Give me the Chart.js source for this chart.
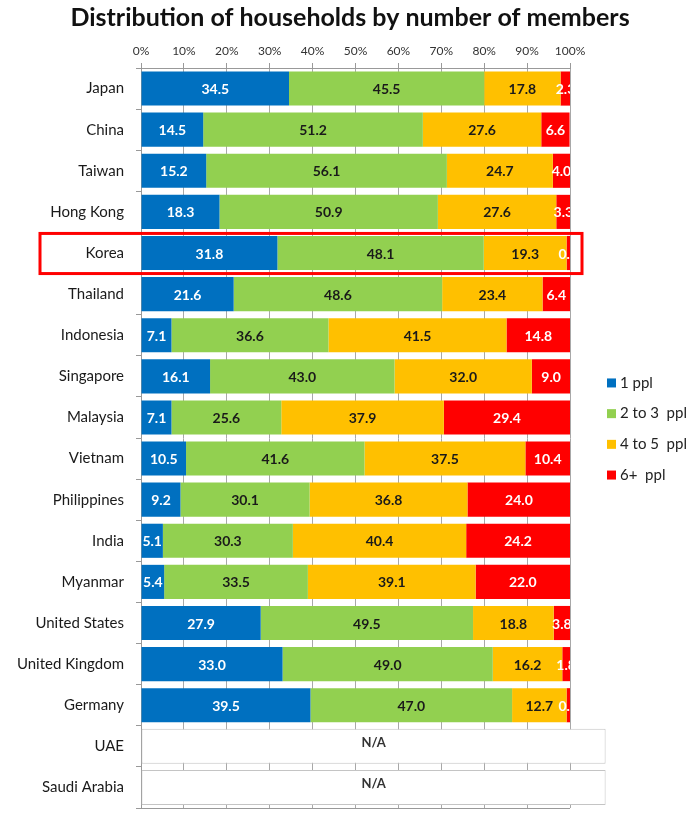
<!DOCTYPE html>
<html>
<head>
<meta charset="utf-8">
<script src="https://cdn.jsdelivr.net/npm/chart.js@4.4.1/dist/chart.umd.min.js"></script>
<style>
html,body{margin:0;padding:0;background:#fff;}
#wrap{width:700px;height:816px;position:relative;}
</style>
</head>
<body>
<div id="wrap"><canvas id="c" width="700" height="816"></canvas></div>
<script>
const categories = ["Japan","China","Taiwan","Hong Kong","Korea","Thailand","Indonesia","Singapore","Malaysia","Vietnam","Philippines","India","Myanmar","United States","United Kingdom","Germany","UAE","Saudi Arabia"];
const seriesNames = ["1 ppl","2 to 3  ppl","4 to 5  ppl","6+  ppl"];
const onePpl   = [34.5,14.5,15.2,18.3,31.8,21.6,7.1,16.1,7.1,10.5,9.2,5.1,5.4,27.9,33.0,39.5,null,null];
const twoThree = [45.5,51.2,56.1,50.9,48.1,48.6,36.6,43.0,25.6,41.6,30.1,30.3,33.5,49.5,49.0,47.0,null,null];
const fourFive = [17.8,27.6,24.7,27.6,19.3,23.4,41.5,32.0,37.9,37.5,36.8,40.4,39.1,18.8,16.2,12.7,null,null];
const sixPlus  = [2.3,6.6,4.0,3.3,0.8,6.4,14.8,9.0,29.4,10.4,24.0,24.2,22.0,3.8,1.8,0.8,null,null];
const naBox    = [null,null,null,null,null,null,null,null,null,null,null,null,null,null,null,null,108.3,108.3];
const xTicks = [0,10,20,30,40,50,60,70,80,90,100];
const highlighted = "Korea";

const colors = ["#0070C0","#92D050","#FFC000","#FF0000"];
const labelColors = ["#ffffff","#1a1a1a","#1a1a1a","#ffffff"];
const FONT = "Lato, 'Open Sans', sans-serif";

const seriesData = [onePpl, twoThree, fourFive, sixPlus];
const datasets = seriesData.map((d,i)=>({
  label: seriesNames[i], data: d, backgroundColor: colors[i], borderWidth: 0,
  barPercentage: 0.83, categoryPercentage: 1.0, xAxisID: "x", yAxisID: "y"
}));
datasets.push({
  label: "N/A", data: naBox, backgroundColor: "#ffffff", borderColor: "#c4c4c4",
  borderWidth: 1, borderSkipped: false, barPercentage: 0.85, categoryPercentage: 1.0,
  clip: false, xAxisID: "x", yAxisID: "y"
});

const labelPlugin = {
  id: "segLabels",
  afterDatasetsDraw(chart){
    const ctx = chart.ctx, area = chart.chartArea;
    // bottom axis line
    ctx.save();
    ctx.strokeStyle = "#999";
    ctx.lineWidth = 1;
    ctx.beginPath();
    ctx.moveTo(area.left, area.bottom + 0.5);
    ctx.lineTo(area.right, area.bottom + 0.5);
    ctx.stroke();
    ctx.restore();

    ctx.save();
    ctx.beginPath();
    ctx.rect(area.left, area.top, area.right-area.left, area.bottom-area.top);
    ctx.clip();
    ctx.font = "bold 14px " + FONT;
    ctx.textAlign = "center";
    ctx.textBaseline = "middle";
    for (let di=0; di<4; di++){
      const meta = chart.getDatasetMeta(di);
      meta.data.forEach((bar,i)=>{
        const v = seriesData[di][i];
        if (v==null) return;
        ctx.fillStyle = labelColors[di];
        ctx.fillText(v.toFixed(1), (bar.x+bar.base)/2, bar.y+1);
      });
    }
    ctx.restore();
    // N/A labels
    const naMeta = chart.getDatasetMeta(4);
    ctx.save();
    ctx.font = "bold 13px " + FONT;
    ctx.fillStyle = "#333";
    ctx.textAlign = "center";
    ctx.textBaseline = "middle";
    naMeta.data.forEach((bar,i)=>{
      if (naBox[i]==null) return;
      ctx.fillText("N/A", (bar.x+bar.base)/2, bar.y-4);
    });
    ctx.restore();
    // highlight box
    const y = chart.scales.y;
    const idx = categories.indexOf(highlighted);
    const yc = y.getPixelForValue(idx);
    const half = (y.getPixelForValue(1)-y.getPixelForValue(0))/2;
    ctx.save();
    ctx.strokeStyle = "#ff0000";
    ctx.lineWidth = 3;
    ctx.strokeRect(40, yc-half+1, area.right+12-40, 2*half-1);
    ctx.restore();
  }
};

const legendPlugin = {
  id: "sideLegend",
  afterDraw(chart){
    const ctx = chart.ctx, area = chart.chartArea;
    const spacing = 30.7;
    const cy = (area.top+area.bottom)/2 - 9;
    const y0 = cy - 1.5*spacing;
    ctx.save();
    ctx.font = "15px " + FONT;
    ctx.textBaseline = "middle";
    ctx.textAlign = "left";
    seriesNames.forEach((n,i)=>{
      const yy = y0 + i*spacing;
      ctx.fillStyle = colors[i];
      ctx.fillRect(607, yy-4.5, 9, 9);
      ctx.fillStyle = "#222";
      ctx.fillText(n, 620, yy);
    });
    ctx.restore();
  }
};

new Chart(document.getElementById("c"), {
  type: "bar",
  data: { labels: categories, datasets },
  options: {
    indexAxis: "y",
    responsive: false,
    animation: false,
    layout: { padding: { left: 0, right: 0, top: 0, bottom: 8 } },
    plugins: {
      legend: { display: false },
      tooltip: { enabled: false },
      title: {
        display: true,
        text: "Distribution of households by number of members",
        font: { family: FONT, size: 25, weight: "bold" },
        color: "#111",
        padding: { top: 3, bottom: 1 }
      }
    },
    scales: {
      x: {
        axis: "x", position: "top", stacked: true, min: 0, max: 100,
        afterBuildTicks(s){ s.ticks = xTicks.map(v=>({value:v})); },
        afterFit(s){ s.height = 34; },
        ticks: { callback: v => v + "%", font: { family: FONT, size: 12 }, color: "#333", padding: 5, maxRotation: 0 },
        grid: { color: "#a8a8a8", lineWidth: 1, drawOnChartArea: true, drawTicks: true, tickLength: 5, tickColor: "#999" },
        border: { display: true, color: "#999" }
      },
      y: {
        axis: "y", type: "category", stacked: true,
        afterFit(s){ s.width = 141; s.paddingTop = 0; s.paddingBottom = 0; },
        ticks: { font: { family: FONT, size: 15 }, color: "#1a1a1a", padding: 12 },
        grid: { display: true, drawOnChartArea: false, drawTicks: true, tickLength: 5, color: "#999" },
        border: { display: true, color: "#999" }
      },
      legendSpace: {
        axis: "y", type: "linear", position: "right", display: true,
        afterFit(s){ s.width = 130; s.paddingTop = 0; s.paddingBottom = 0; },
        ticks: { display: false },
        grid: { display: false },
        border: { display: false }
      }
    }
  },
  plugins: [labelPlugin, legendPlugin]
});
</script>
</body>
</html>
